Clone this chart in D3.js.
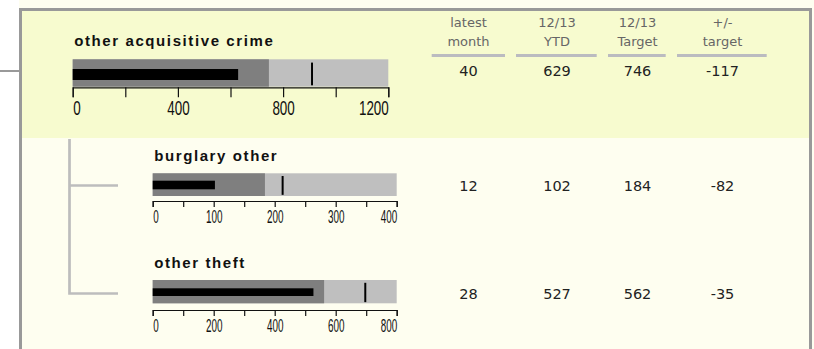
<!DOCTYPE html>
<meta charset="utf-8">
<head>
  <title>Bullet charts</title>
</head>
<style>
body { margin: 0; background: #fff; }
.title { font-family: "Liberation Sans", Arial, sans-serif; font-weight: bold; font-size: 15px; letter-spacing: 1.6px; fill: #111; }
.head { font-family: "DejaVu Sans", Verdana, sans-serif; font-size: 13px; fill: #666; text-anchor: middle; }
.val { font-family: "DejaVu Sans", Verdana, sans-serif; font-size: 14.5px; fill: #222; text-anchor: middle; }
.axis text { font-family: "Liberation Sans", Arial, sans-serif; fill: #111; }
.axis line, .axis path { stroke: #111; }
</style>
<body>
<svg id="chart" width="814" height="349"></svg>
<script src="https://cdnjs.cloudflare.com/ajax/libs/d3/7.8.5/d3.min.js"></script>
<script>
// data
var titles = ["other acquisitive crime", "burglary other", "other theft"];
var latestMonth = [40, 12, 28];
var ytd = [629, 102, 527];
var target = [746, 184, 562];
var vsTarget = [-117, -82, -35];
var marker = [910, 213, 697];
var rangeMax = [1200, 400, 800];
var tickStep = [200, 50, 100];
var labelStep = [400, 100, 200];
var headers = [["latest", "month"], ["12/13", "YTD"], ["12/13", "Target"], ["+/-", "target"]];

// layout for each row
var rows = [
  {x0: 72.7, x1: 388.3, top: 59.3, h: 27.4, axisY: 87.3, tick: 10, font: 21, sx: 0.64, titleY: 46, valY: 76, mTop: 69, mH: 11},
  {x0: 152.7, x1: 396.7, top: 173.3, h: 22.7, axisY: 201, tick: 6, font: 18, sx: 0.55, titleY: 161, valY: 191, mTop: 180.7, mH: 8.6},
  {x0: 152.7, x1: 396.7, top: 280, h: 23.3, axisY: 310, tick: 6, font: 18, sx: 0.55, titleY: 268, valY: 299, mTop: 288.3, mH: 7.7}
];
var colX = [468.5, 557, 637.5, 722.5];
var colLine = [[431.7, 505], [516, 596.7], [608, 665.7], [677, 766.7]];

var svg = d3.select("#chart");

// panel backgrounds and border
svg.append("rect").attr("x", 19).attr("y", 0).attr("width", 795).attr("height", 349).attr("fill", "#fefef0");
svg.append("rect").attr("x", 22).attr("y", 11).attr("width", 787).attr("height", 127).attr("fill", "#f7fbcf");
svg.append("path").attr("d", "M20.5,349V9.5H810.5V349").attr("fill", "none").attr("stroke", "#999").attr("stroke-width", 3);
svg.append("line").attr("x1", 0).attr("x2", 20).attr("y1", 71).attr("y2", 71).attr("stroke", "#999").attr("stroke-width", 2);

// tree connector
svg.append("path")
  .attr("d", "M69.5,139V293.5H118M69.5,185.5H118")
  .attr("fill", "none").attr("stroke", "#bdbdbd").attr("stroke-width", 2.7);

// column headers
headers.forEach(function(h, i) {
  svg.append("text").attr("class", "head").attr("x", colX[i]).attr("y", 27).text(h[0]);
  svg.append("text").attr("class", "head").attr("x", colX[i]).attr("y", 46).text(h[1]);
  svg.append("rect").attr("x", colLine[i][0]).attr("y", 54).attr("width", colLine[i][1] - colLine[i][0]).attr("height", 3).attr("fill", "#bbbbc0");
});

rows.forEach(function(r, i) {
  var x = d3.scaleLinear().domain([0, rangeMax[i]]).range([r.x0, r.x1]);
  var g = svg.append("g");

  g.append("text").attr("class", "title").attr("x", x(0) + 1.5).attr("y", r.titleY).text(titles[i]);

  // ranges
  g.append("rect").attr("x", x(0)).attr("y", r.top).attr("width", x(rangeMax[i]) - x(0)).attr("height", r.h).attr("fill", "#bfbfbf");
  g.append("rect").attr("x", x(0)).attr("y", r.top).attr("width", x(target[i]) - x(0)).attr("height", r.h).attr("fill", "#7f7f7f");
  // measure
  g.append("rect").attr("x", x(0)).attr("y", r.mTop).attr("width", x(ytd[i]) - x(0)).attr("height", r.mH).attr("fill", "#000");
  // marker
  g.append("line").attr("x1", x(marker[i])).attr("x2", x(marker[i]))
    .attr("y1", r.top + r.h * 0.12).attr("y2", r.top + r.h * 0.95)
    .attr("stroke", "#000").attr("stroke-width", 2);

  // axis
  var ticks = d3.range(0, rangeMax[i] + 1, tickStep[i]);
  var ax = g.append("g").attr("class", "axis").attr("transform", "translate(0," + r.axisY + ")")
    .call(d3.axisBottom(x).tickValues(ticks).tickSize(r.tick).tickSizeOuter(r.tick).tickPadding(3)
      .tickFormat(function(d) { return d % labelStep[i] === 0 ? d : ""; }));
  ax.select(".domain").attr("stroke-width", 1.2);
  ax.selectAll(".tick line").attr("stroke-width", 1.2);
  ax.selectAll("text")
    .style("font-size", r.font + "px")
    .attr("text-anchor", function(d) { return d === 0 ? "start" : d === rangeMax[i] ? "end" : "middle"; })
    .attr("transform", "scale(" + r.sx + ",1)");

  // table values
  [latestMonth[i], ytd[i], target[i], vsTarget[i]].forEach(function(v, j) {
    svg.append("text").attr("class", "val").attr("x", colX[j]).attr("y", r.valY).text(v);
  });
});
</script>
</body>
